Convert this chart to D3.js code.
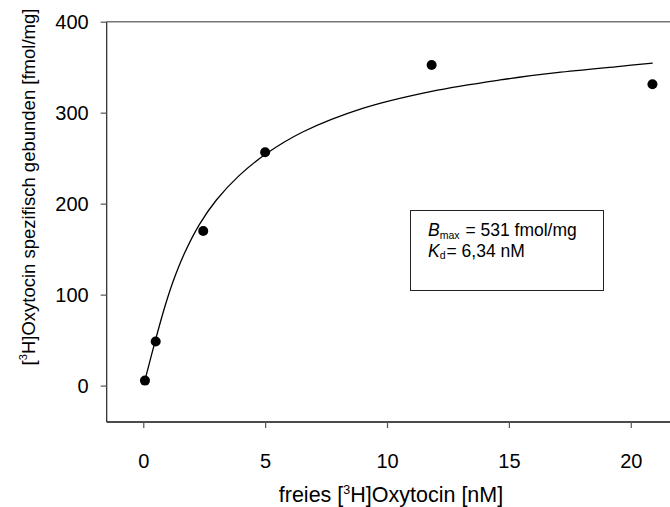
<!DOCTYPE html>
<html>
<head>
<meta charset="utf-8">
<script src="https://cdn.jsdelivr.net/npm/d3@7"></script>
<style>
  html, body { margin: 0; padding: 0; background: #fff; }
  svg { display: block; }
  text { font-family: "Liberation Sans", Arial, sans-serif; fill: #000; }
</style>
</head>
<body>
<svg id="chart" width="670" height="507"></svg>
<script>
// Saturation binding: free [3H]oxytocin (nM) vs. specifically bound (fmol/mg)
const freeNM     = [0.07, 0.51, 2.46, 5.0, 11.83, 20.89];
const boundFmol  = [5.5, 48.4, 170, 256.5, 352.4, 331.2];

// Fitted saturation curve, sampled along its path
const fitFreeNM  = [0.07, 0.51, 0.9, 1.23, 1.7, 2.3, 3.0, 3.9, 5.0, 6.56, 9.03, 11.83, 14.64, 16.96, 19.56, 20.9];
const fitBound   = [6, 51, 88, 115, 146, 177, 204, 230, 254, 279, 305, 323.5, 336, 344, 351, 354.5];

const xTicks = [0, 5, 10, 15, 20];
const yTicks = [0, 100, 200, 300, 400];

const fitParams = [
  { sym: "B", sub: "max", rest: " = 531 fmol/mg" },
  { sym: "K", sub: "d",   rest: "= 6,34 nM" }
];

const svg = d3.select("#chart");

const plotLeft = 106.7, plotTop = 21.7, plotBottom = 422;
const x = d3.scaleLinear().domain([-1.5, 22]).range([plotLeft, plotLeft + 23.5 * 24.375]);
const y = d3.scaleLinear().domain([-40, 400]).range([plotBottom, plotTop]);

// Frame lines
svg.append("line").attr("x1", plotLeft).attr("x2", 670).attr("y1", plotTop).attr("y2", plotTop)
  .attr("stroke", "#777").attr("stroke-width", 1.5);
svg.append("line").attr("x1", plotLeft).attr("x2", plotLeft).attr("y1", plotTop).attr("y2", plotBottom)
  .attr("stroke", "#222").attr("stroke-width", 1.2);
svg.append("line").attr("x1", plotLeft).attr("x2", 670).attr("y1", plotBottom).attr("y2", plotBottom)
  .attr("stroke", "#111").attr("stroke-width", 1.5);

// Axes
const yAxis = svg.append("g").attr("transform", `translate(${plotLeft},0)`)
  .call(d3.axisLeft(y).tickValues(yTicks).tickSize(6).tickSizeOuter(0).tickPadding(12));
const xAxis = svg.append("g").attr("transform", `translate(0,${plotBottom})`)
  .call(d3.axisBottom(x).tickValues(xTicks).tickSize(6).tickSizeOuter(0).tickPadding(26));
[yAxis, xAxis].forEach(g => {
  g.select(".domain").remove();
  g.selectAll(".tick line").attr("stroke", "#555").attr("stroke-width", 1.2);
  g.selectAll(".tick text").attr("font-size", 20).attr("fill", "#000")
    .style("font-family", "'Liberation Sans', Arial, sans-serif");
});

// Fitted curve
const line = d3.line().x((d, i) => x(fitFreeNM[i])).y(d => y(d)).curve(d3.curveCatmullRom.alpha(0.5));
svg.append("path").datum(fitBound).attr("d", line)
  .attr("fill", "none").attr("stroke", "#000").attr("stroke-width", 1.3);

// Data points
svg.append("g").selectAll("circle").data(boundFmol).join("circle")
  .attr("cx", (d, i) => x(freeNM[i])).attr("cy", d => y(d)).attr("r", 5).attr("fill", "#000");

// Parameter box
svg.append("rect").attr("x", 410.5).attr("y", 210.5).attr("width", 193).attr("height", 80)
  .attr("fill", "#fff").attr("stroke", "#222").attr("stroke-width", 1);
fitParams.forEach((p, i) => {
  const t = svg.append("text").attr("x", 428).attr("y", 236 + i * 20.5).attr("font-size", 17.5);
  t.append("tspan").attr("font-style", "italic").text(p.sym);
  t.append("tspan").attr("font-size", 10.5).attr("dy", 2.5).text(p.sub);
  t.append("tspan").attr("dy", -2.5).attr("dx", 1).text(p.rest);
});

// Axis titles
const xt = svg.append("text").attr("x", 391).attr("y", 502).attr("text-anchor", "middle").attr("font-size", 21.5);
xt.append("tspan").text("freies [");
xt.append("tspan").attr("font-size", 12.5).attr("dy", -8.5).text("3");
xt.append("tspan").attr("dy", 8.5).text("H]Oxytocin [nM]");

const yt = svg.append("text").attr("transform", "translate(35,187) rotate(-90)")
  .attr("text-anchor", "middle").attr("font-size", 18.5);
yt.append("tspan").text("[");
yt.append("tspan").attr("font-size", 11).attr("dy", -8).text("3");
yt.append("tspan").attr("dy", 8).text("H]Oxytocin spezifisch gebunden [fmol/mg]");
</script>
</body>
</html>
